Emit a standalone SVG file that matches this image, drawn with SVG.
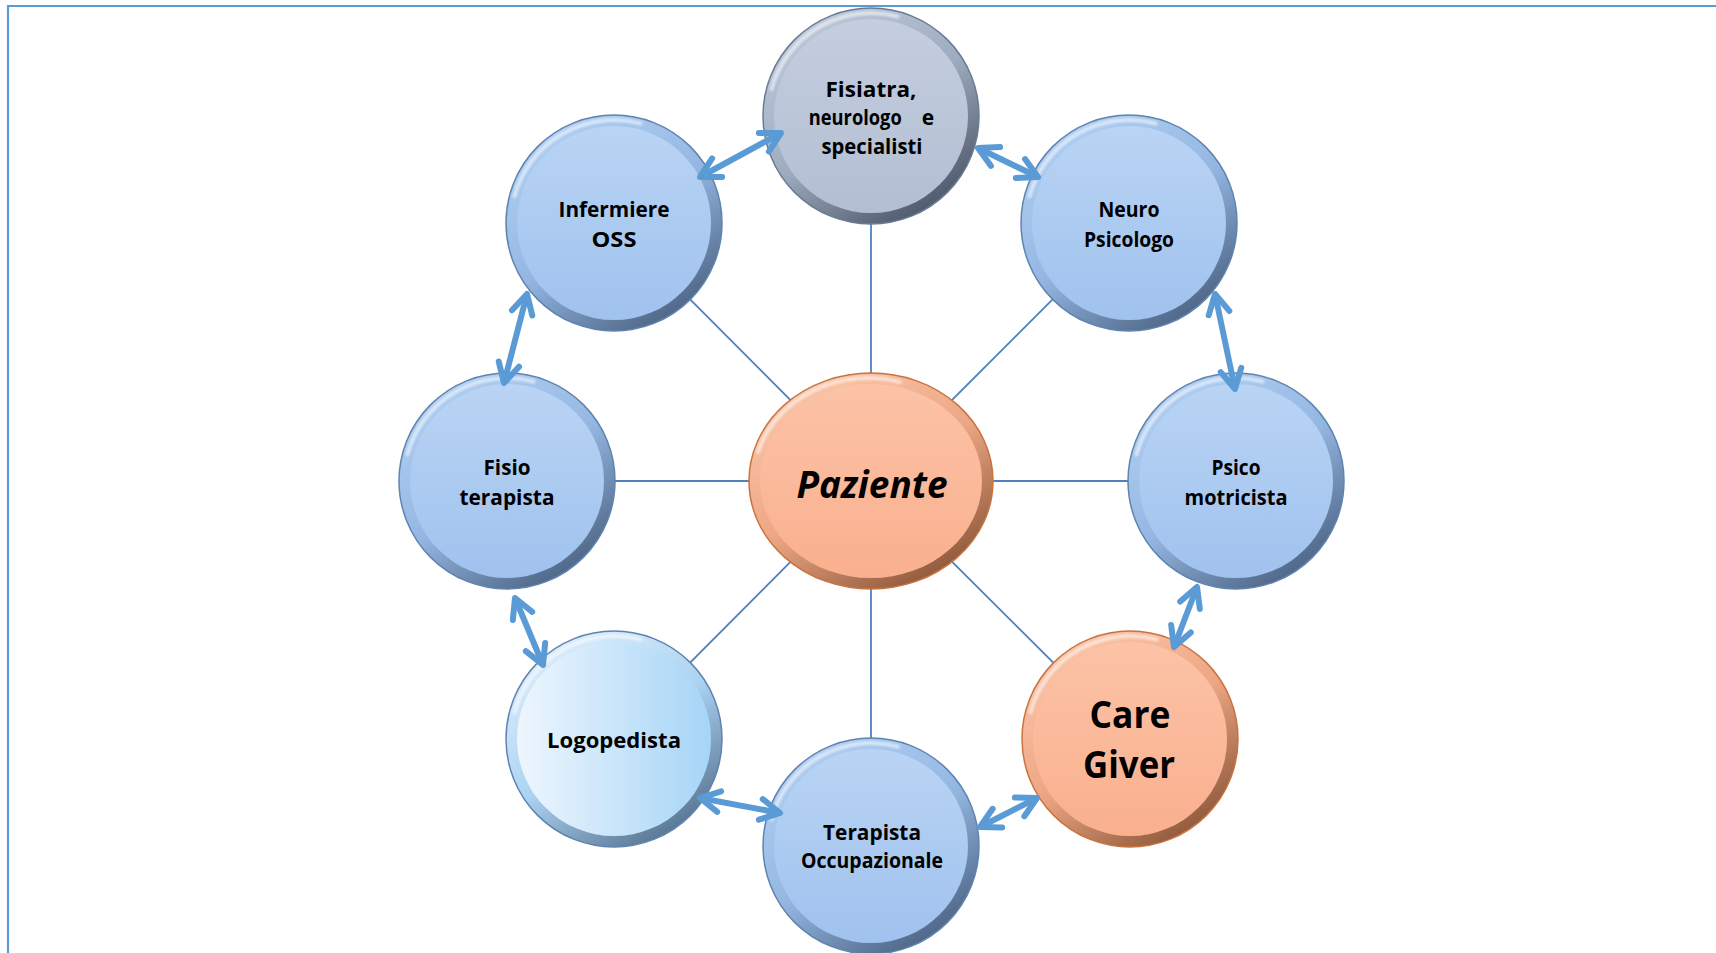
<svg xmlns="http://www.w3.org/2000/svg" xmlns:xlink="http://www.w3.org/1999/xlink" width="1716" height="953" viewBox="0 0 1716 953">
<style>
.lbl{font-family:"Open Sans","DejaVu Sans",sans-serif;font-weight:700;font-size:21px;fill:#000;text-anchor:middle}
.big{font-family:"Open Sans","DejaVu Sans",sans-serif;font-weight:700;font-size:37px;fill:#000;text-anchor:middle}
.spoke{stroke:#4f81bd;stroke-width:1.8;fill:none}
.arr{stroke:#5b9bd5;stroke-width:6;fill:none;marker-start:url(#ah);marker-end:url(#ah)}
.hl{fill:none;stroke:#fff;stroke-width:4;stroke-linecap:round;opacity:.55;filter:url(#blur)}
</style>
<defs>
<filter id="blur" x="-20%" y="-20%" width="140%" height="140%"><feGaussianBlur stdDeviation="1.3"/></filter>
<marker id="ah" viewBox="-30 -18 36 36" refX="0" refY="0" markerWidth="36" markerHeight="36" markerUnits="userSpaceOnUse" orient="auto-start-reverse">
<path d="M-19.5,-10.5 L0,0 L-19.5,10.5" fill="none" stroke="#5b9bd5" stroke-width="6" stroke-linecap="round" stroke-linejoin="round"/>
</marker>
<linearGradient id="rimB" x1="0.2" y1="0.05" x2="0.8" y2="0.95"><stop offset="0" stop-color="#b0cef2"/><stop offset="0.5" stop-color="#94b7e2"/><stop offset="1" stop-color="#4b6282"/></linearGradient>
<linearGradient id="faceB" x1="0" y1="0" x2="0" y2="1"><stop offset="0" stop-color="#b9d4f4"/><stop offset="1" stop-color="#a0c2ee"/></linearGradient>
<linearGradient id="rimG" x1="0.2" y1="0.05" x2="0.8" y2="0.95"><stop offset="0" stop-color="#bcc8da"/><stop offset="0.5" stop-color="#9eacc0"/><stop offset="1" stop-color="#4a5566"/></linearGradient>
<linearGradient id="faceG" x1="0" y1="0" x2="0" y2="1"><stop offset="0" stop-color="#c4cedf"/><stop offset="1" stop-color="#b2bed2"/></linearGradient>
<linearGradient id="rimO" x1="0.2" y1="0.05" x2="0.8" y2="0.95"><stop offset="0" stop-color="#fbc5a8"/><stop offset="0.5" stop-color="#eca684"/><stop offset="1" stop-color="#8c5638"/></linearGradient>
<linearGradient id="faceO" x1="0" y1="0" x2="0" y2="1"><stop offset="0" stop-color="#fcc3a6"/><stop offset="1" stop-color="#f9b08e"/></linearGradient>
<linearGradient id="rimL" x1="0.2" y1="0.05" x2="0.8" y2="0.95"><stop offset="0" stop-color="#dcecfb"/><stop offset="0.5" stop-color="#acd3f3"/><stop offset="1" stop-color="#55728f"/></linearGradient>
<linearGradient id="faceL" x1="0" y1="0" x2="1" y2="0"><stop offset="0" stop-color="#eef6fd"/><stop offset="1" stop-color="#a6d5f7"/></linearGradient>
<g id="btnB"><circle r="108" fill="url(#rimB)" stroke="#5f84b0" stroke-width="1.5"/><circle r="97" fill="url(#faceB)"/><path class="hl" d="M-99.5,-26.7 A103,103 0 0 1 26.7,-99.5"/></g>
<g id="btnG"><circle r="108" fill="url(#rimG)" stroke="#6a7c94" stroke-width="1.5"/><circle r="97" fill="url(#faceG)"/><path class="hl" d="M-99.5,-26.7 A103,103 0 0 1 26.7,-99.5"/></g>
<g id="btnO"><circle r="108" fill="url(#rimO)" stroke="#c9743f" stroke-width="1.5"/><circle r="97" fill="url(#faceO)"/><path class="hl" d="M-99.5,-26.7 A103,103 0 0 1 26.7,-99.5"/></g>
<g id="btnL"><circle r="108" fill="url(#rimL)" stroke="#5f84b0" stroke-width="1.5"/><circle r="97" fill="url(#faceL)"/><path class="hl" d="M-99.5,-26.7 A103,103 0 0 1 26.7,-99.5"/></g>
</defs>
<rect width="1716" height="953" fill="#fff"/>
<path d="M8,953 V6 H1716" fill="none" stroke="#5b9bd5" stroke-width="2.2"/>
<g id="connectors">
<line class="spoke" x1="871" y1="481" x2="871" y2="116"/>
<line class="spoke" x1="871" y1="481" x2="1129" y2="223"/>
<line class="spoke" x1="871" y1="481" x2="1236" y2="481"/>
<line class="spoke" x1="871" y1="481" x2="1130" y2="739"/>
<line class="spoke" x1="871" y1="481" x2="871" y2="846"/>
<line class="spoke" x1="871" y1="481" x2="614" y2="739"/>
<line class="spoke" x1="871" y1="481" x2="507" y2="481"/>
<line class="spoke" x1="871" y1="481" x2="614" y2="223"/>
</g>
<g id="node-fisiatra"><use href="#btnG" x="871" y="116"/>
<text class="lbl" x="871" y="97" textLength="91" lengthAdjust="spacingAndGlyphs">Fisiatra,</text>
<text class="lbl" y="125"><tspan x="858" textLength="93" lengthAdjust="spacingAndGlyphs">neurologo</tspan> <tspan x="928">e</tspan></text>
<text class="lbl" x="872" y="154" textLength="101" lengthAdjust="spacingAndGlyphs">specialisti</text></g>
<g id="node-infermiere"><use href="#btnB" x="614" y="223"/>
<text class="lbl" x="614" y="217" textLength="111" lengthAdjust="spacingAndGlyphs">Infermiere</text>
<text class="lbl" x="614" y="247" textLength="45" lengthAdjust="spacingAndGlyphs">OSS</text></g>
<g id="node-neuro"><use href="#btnB" x="1129" y="223"/>
<text class="lbl" x="1129" y="217" textLength="61" lengthAdjust="spacingAndGlyphs">Neuro</text>
<text class="lbl" x="1129" y="247" textLength="90" lengthAdjust="spacingAndGlyphs">Psicologo</text></g>
<g id="node-fisio"><use href="#btnB" x="507" y="481"/>
<text class="lbl" x="507" y="475" textLength="47" lengthAdjust="spacingAndGlyphs">Fisio</text>
<text class="lbl" x="507" y="505" textLength="95" lengthAdjust="spacingAndGlyphs">terapista</text></g>
<g id="node-psico"><use href="#btnB" x="1236" y="481"/>
<text class="lbl" x="1236" y="475" textLength="49" lengthAdjust="spacingAndGlyphs">Psico</text>
<text class="lbl" x="1236" y="505" textLength="103" lengthAdjust="spacingAndGlyphs">motricista</text></g>
<g id="node-logopedista"><use href="#btnL" x="614" y="739"/>
<text class="lbl" x="614" y="748" textLength="134" lengthAdjust="spacingAndGlyphs">Logopedista</text></g>
<g id="node-terapista"><use href="#btnB" x="871" y="846"/>
<text class="lbl" x="872" y="840" textLength="98" lengthAdjust="spacingAndGlyphs">Terapista</text>
<text class="lbl" x="872" y="868" textLength="142" lengthAdjust="spacingAndGlyphs">Occupazionale</text></g>
<g id="node-caregiver"><use href="#btnO" x="1130" y="739"/>
<text class="big" x="1130" y="728" textLength="81" lengthAdjust="spacingAndGlyphs">Care</text>
<text class="big" x="1129" y="778" textLength="92" lengthAdjust="spacingAndGlyphs">Giver</text></g>
<g id="node-paziente">
<ellipse cx="871" cy="481" rx="122" ry="108" fill="url(#rimO)" stroke="#c9743f" stroke-width="1.5"/>
<ellipse cx="871" cy="481" rx="111" ry="97" fill="url(#faceO)"/>
<path class="hl" d="M758,452 A115,102 0 0 1 900,382"/>
<text class="big" x="872" y="498" font-style="italic" textLength="151" lengthAdjust="spacingAndGlyphs">Paziente</text></g>
<g id="arrows">
<line class="arr" x1="700" y1="177" x2="781" y2="133"/>
<line class="arr" x1="978" y1="148" x2="1038" y2="177"/>
<line class="arr" x1="1215" y1="294" x2="1235" y2="389"/>
<line class="arr" x1="1197" y1="587" x2="1174" y2="647"/>
<line class="arr" x1="1037" y1="798" x2="980" y2="827"/>
<line class="arr" x1="780" y1="813" x2="700" y2="798"/>
<line class="arr" x1="543" y1="665" x2="515" y2="598"/>
<line class="arr" x1="527" y1="294" x2="504" y2="383"/>
</g>
</svg>
